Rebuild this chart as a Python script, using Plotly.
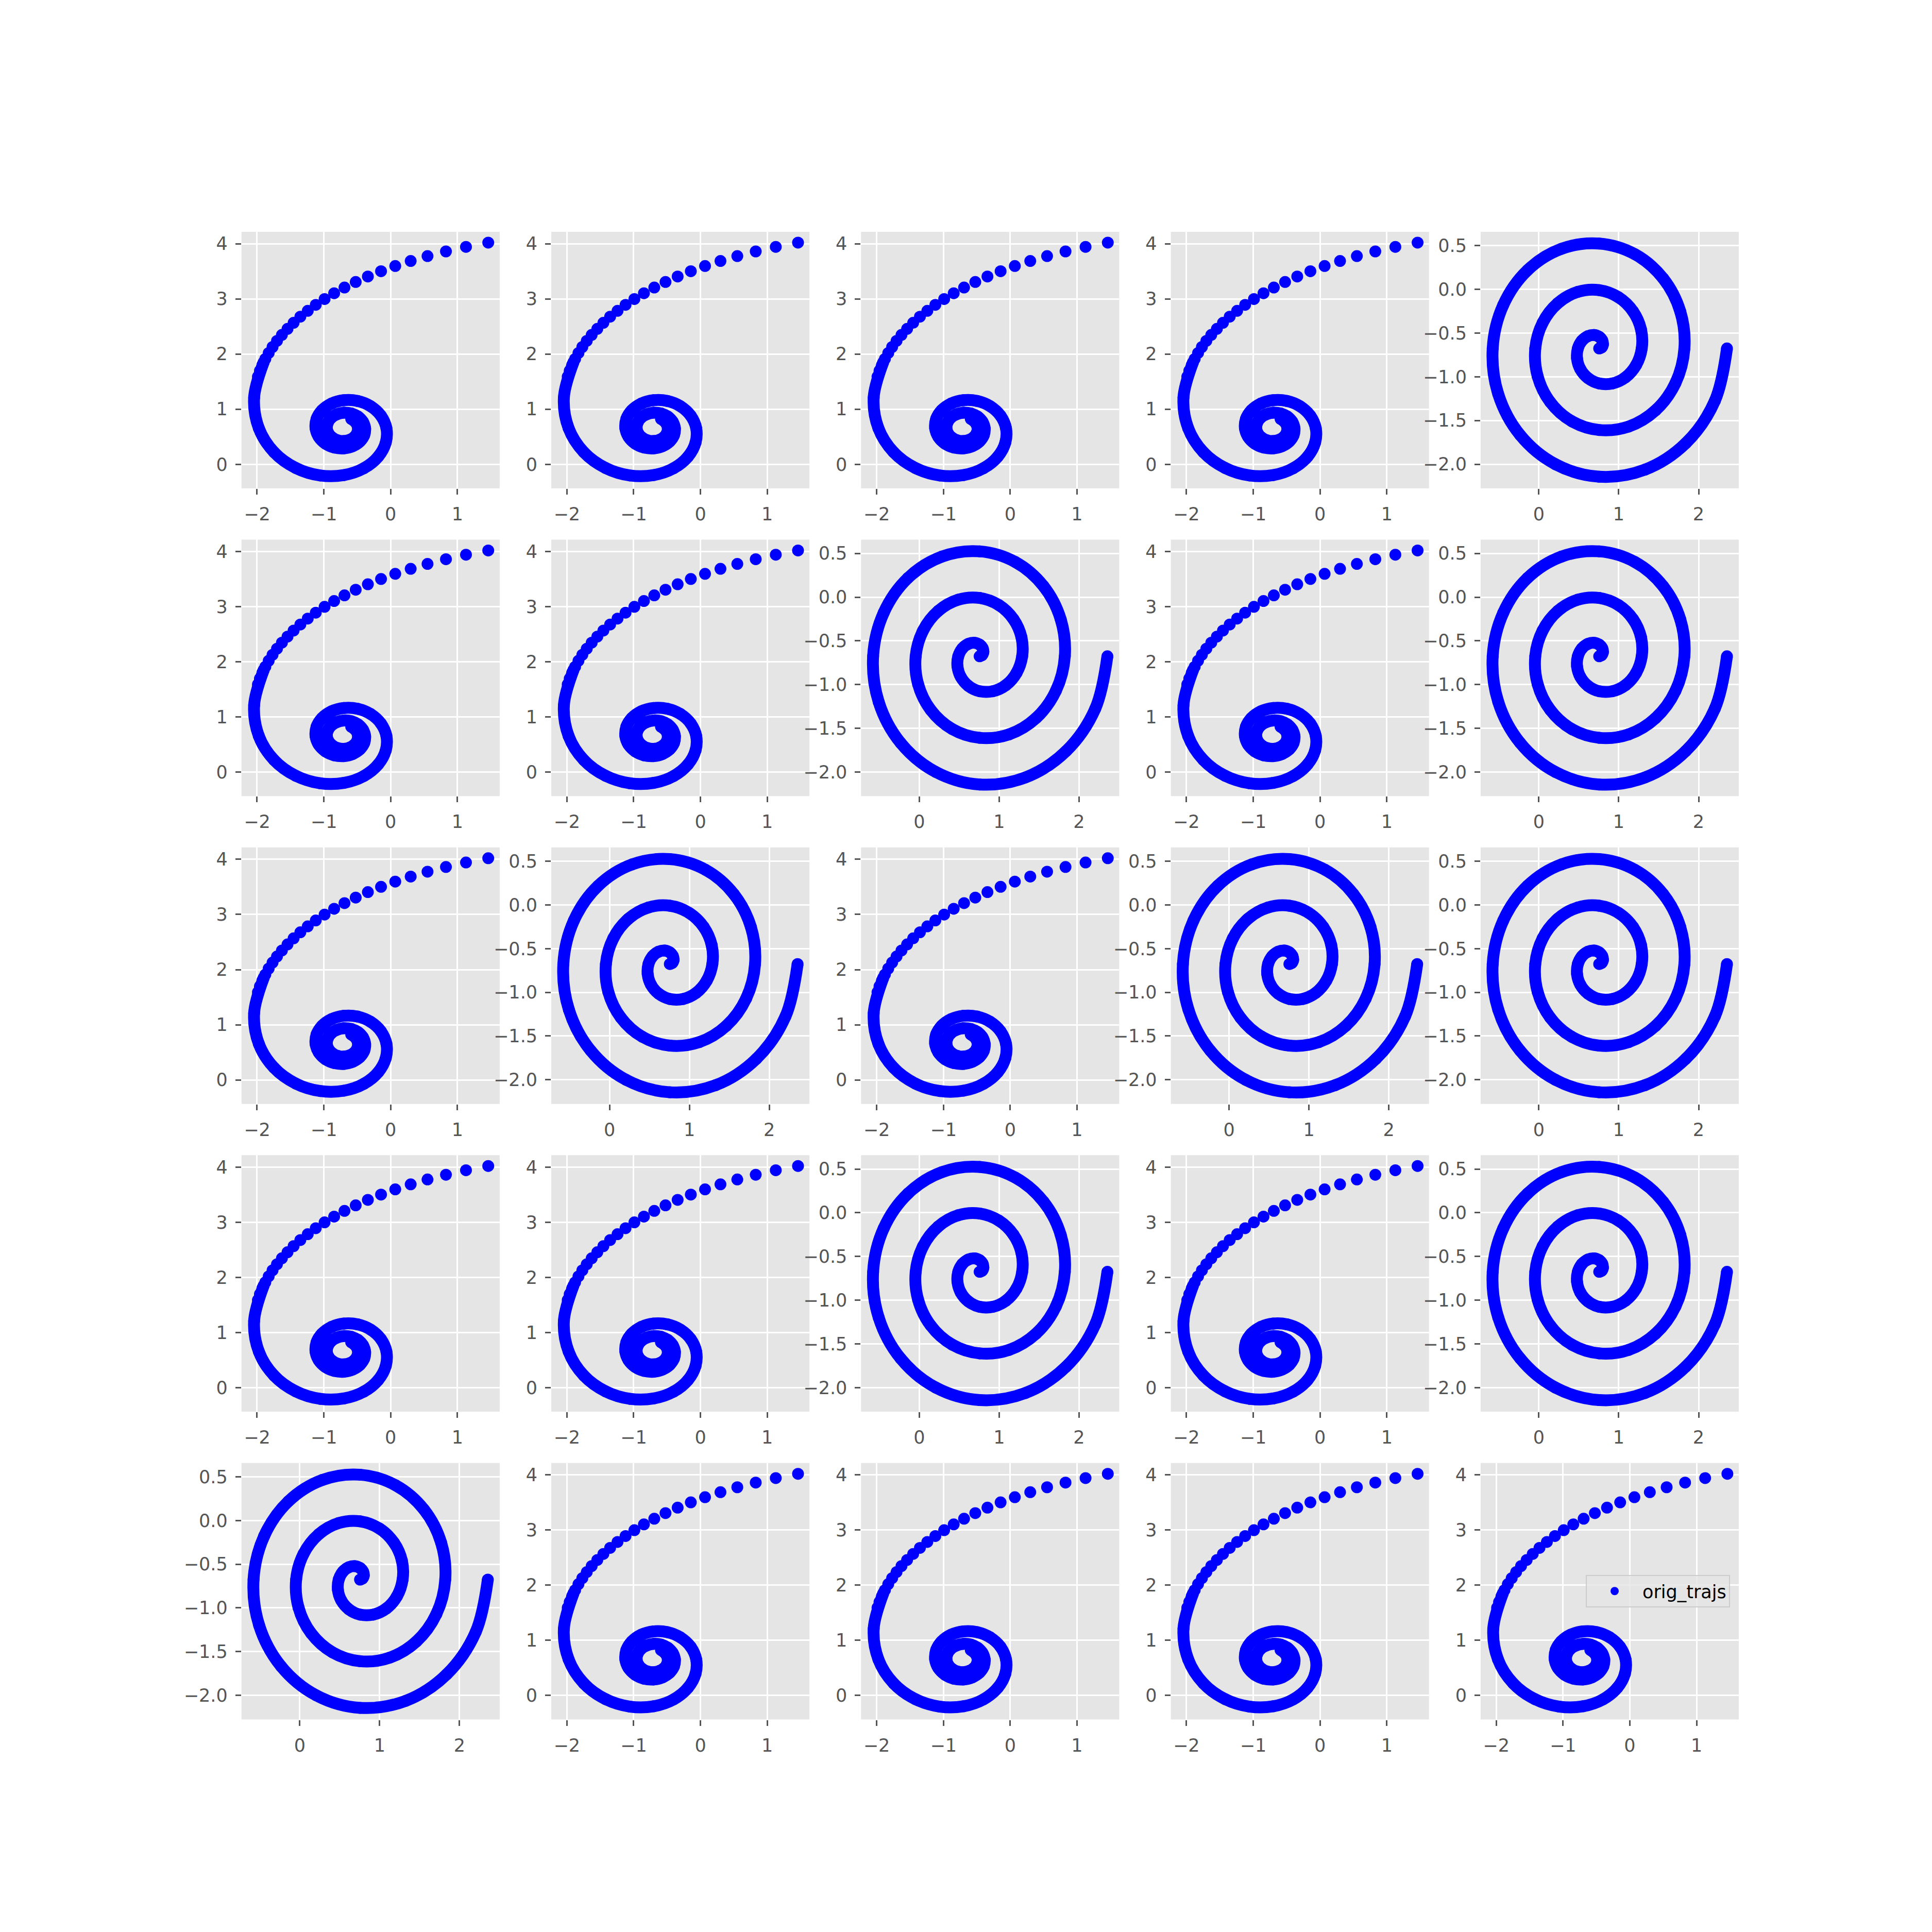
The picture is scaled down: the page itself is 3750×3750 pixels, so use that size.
import plotly.graph_objects as go

# ---------------- data ----------------
# panel layout, rows top->bottom: "A" = hook-shaped inward spiral, "B" = outward spiral
PANEL_TYPES = [
    ["A", "A", "A", "A", "B"],
    ["A", "A", "B", "A", "B"],
    ["A", "B", "A", "B", "B"],
    ["A", "A", "B", "A", "B"],
    ["B", "A", "A", "A", "A"],
]

# spiral A: sparse outer tail (individually visible dots)
A_tail_x = [1.461, 1.128, 0.828, 0.552, 0.300, 0.069, -0.144, -0.341, -0.523, -0.691,
            -0.846, -0.989, -1.121, -1.241, -1.352, -1.453, -1.544, -1.628, -1.702,
            -1.768, -1.826, -1.876, -1.920, -1.957, -1.987]
A_tail_y = [4.020, 3.943, 3.861, 3.776, 3.687, 3.596, 3.502, 3.406, 3.307, 3.206,
            3.103, 2.998, 2.892, 2.784, 2.677, 2.567, 2.457, 2.347, 2.238,
            2.128, 2.019, 1.911, 1.803, 1.697, 1.590]

# spiral A: dense body (points along the curve, densely overlapping dots)
A_body_x = [-1.900, -2.044, -1.973, -1.746, -1.420, -1.054, -0.700, -0.400, -0.186, -0.073,
            -0.063, -0.146, -0.300, -0.495, -0.700, -0.886, -1.027, -1.109, -1.124, -1.076,
            -0.977, -0.844, -0.700, -0.566, -0.460, -0.396, -0.382, -0.415, -0.488, -0.589,
            -0.700, -0.805, -0.890, -0.941, -0.955, -0.930, -0.872, -0.791, -0.700, -0.613,
            -0.543, -0.500, -0.488, -0.508, -0.556, -0.591]
A_body_y = [1.854, 1.211, 0.654, 0.221, -0.066, -0.202, -0.195, -0.070, 0.140, 0.394,
            0.654, 0.883, 1.054, 1.149, 1.163, 1.102, 0.981, 0.824, 0.654, 0.498,
            0.377, 0.305, 0.290, 0.330, 0.414, 0.528, 0.654, 0.772, 0.866, 0.923,
            0.937, 0.908, 0.844, 0.754, 0.654, 0.559, 0.483, 0.435, 0.423, 0.445,
            0.497, 0.571, 0.654, 0.734, 0.798, 0.824]

# spiral B: outward spiral from the centre
B_x = [0.755, 0.786, 0.802, 0.793, 0.755, 0.691, 0.614, 0.539, 0.488, 0.478,
       0.519, 0.615, 0.755, 0.921, 1.085, 1.217, 1.288, 1.279, 1.179, 0.997,
       0.755, 0.487, 0.237, 0.047, -0.045, -0.015, 0.142, 0.411, 0.755, 1.125,
       1.462, 1.710, 1.822, 1.771, 1.556, 1.202, 0.755, 0.283, -0.141, -0.446,
       -0.578, -0.508, -0.235, 0.207, 0.755, 1.329, 1.839, 2.203, 2.355]
B_y = [-0.676, -0.663, -0.629, -0.584, -0.543, -0.522, -0.535, -0.587, -0.676, -0.791,
       -0.912, -1.015, -1.076, -1.076, -1.006, -0.867, -0.676, -0.459, -0.252, -0.091,
       -0.009, -0.029, -0.158, -0.383, -0.676, -0.995, -1.289, -1.508, -1.609, -1.569,
       -1.383, -1.072, -0.676, -0.255, 0.125, 0.402, 0.524, 0.464, 0.220, -0.179,
       -0.676, -1.199, -1.666, -2.000, -2.143, -2.062, -1.760, -1.276, -0.676]

# axes
A_xrange = [-2.233, 1.632]
A_yrange = [-0.435, 4.216]
B_xrange = [-0.729, 2.503]
B_yrange = [-2.276, 0.658]
A_xticks = [-2, -1, 0, 1]
A_xticklabels = ["\u22122", "\u22121", "0", "1"]
A_yticks = [0, 1, 2, 3, 4]
A_yticklabels = ["0", "1", "2", "3", "4"]
B_xticks = [0, 1, 2]
B_xticklabels = ["0", "1", "2"]
B_yticks = [0.5, 0.0, -0.5, -1.0, -1.5, -2.0]
B_yticklabels = ["0.5", "0.0", "\u22120.5", "\u22121.0", "\u22121.5", "\u22122.0"]

LEGEND_NAME = "orig_trajs"

# ---------------- styling / geometry ----------------
BLUE = "#0000FF"
DOT = 23
GRID_W = 2.7
TICK_FONT = dict(family="DejaVu Sans", size=35, color="#555555")

LEFT, RIGHT, BOTTOM, TOP = 0.125, 0.9, 0.11, 0.88
NCOL = NROW = 5
PW = (RIGHT - LEFT) / (NCOL + (NCOL - 1) * 0.2)
GX = 0.2 * PW
PH = (TOP - BOTTOM) / (NROW + (NROW - 1) * 0.2)
GY = 0.2 * PH

fig = go.Figure()
layout = {}

for r in range(NROW):
    for c in range(NCOL):
        idx = r * NCOL + c + 1
        kind = PANEL_TYPES[r][c]
        xa = "x" if idx == 1 else f"x{idx}"
        ya = "y" if idx == 1 else f"y{idx}"
        is_last = (r == NROW - 1 and c == NCOL - 1)

        if kind == "A":
            fig.add_trace(go.Scatter(
                x=A_body_x, y=A_body_y, xaxis=xa, yaxis=ya,
                mode="lines+markers",
                line=dict(color=BLUE, width=DOT, shape="spline", smoothing=1.0, simplify=False),
                marker=dict(color=BLUE, size=DOT, line=dict(width=0)),
                showlegend=False, hoverinfo="skip"))
            fig.add_trace(go.Scatter(
                x=A_tail_x, y=A_tail_y, xaxis=xa, yaxis=ya,
                mode="markers",
                marker=dict(color=BLUE, size=DOT, line=dict(width=0)),
                name=LEGEND_NAME, showlegend=is_last, hoverinfo="skip"))
            xr, yr = A_xrange, A_yrange
            xt, xtl, yt, ytl = A_xticks, A_xticklabels, A_yticks, A_yticklabels
        else:
            fig.add_trace(go.Scatter(
                x=B_x, y=B_y, xaxis=xa, yaxis=ya,
                mode="lines+markers",
                line=dict(color=BLUE, width=DOT, shape="spline", smoothing=1.0, simplify=False),
                marker=dict(color=BLUE, size=DOT, line=dict(width=0)),
                name=LEGEND_NAME, showlegend=is_last, hoverinfo="skip"))
            xr, yr = B_xrange, B_yrange
            xt, xtl, yt, ytl = B_xticks, B_xticklabels, B_yticks, B_yticklabels

        x0 = LEFT + c * (PW + GX)
        y1 = TOP - r * (PH + GY)
        common = dict(showgrid=True, gridcolor="white", gridwidth=GRID_W,
                      zeroline=False, showline=False, ticks="outside", ticklen=11,
                      tickwidth=GRID_W, tickcolor="#555555", tickfont=TICK_FONT,
                      ticklabelstandoff=8)
        layout[f"xaxis{idx}"] = dict(domain=[x0, x0 + PW], anchor=ya, range=xr,
                                     tickmode="array", tickvals=xt, ticktext=xtl, **common)
        layout[f"yaxis{idx}"] = dict(domain=[y1 - PH, y1], anchor=xa, range=yr,
                                     tickmode="array", tickvals=yt, ticktext=ytl, **common)

fig.update_layout(**layout)
fig.update_layout(
    width=3750, height=3750,
    margin=dict(l=0, r=0, t=0, b=0),
    paper_bgcolor="white", plot_bgcolor="#E5E5E5",
    showlegend=True,
    legend=dict(x=3358 / 3750, y=1 - 3057 / 3750, xanchor="right", yanchor="top",
                bgcolor="rgba(229,229,229,0.8)", bordercolor="#CCCCCC", borderwidth=2,
                font=dict(family="DejaVu Sans", size=35, color="black"),
                itemwidth=98),
)

fig.write_html("out.html")
